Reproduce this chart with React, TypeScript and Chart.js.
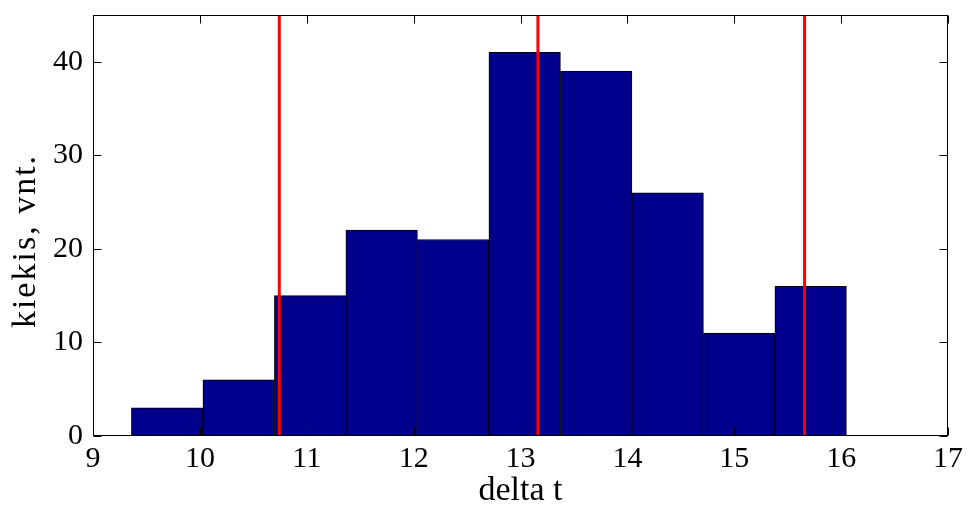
import React, { useEffect, useRef } from 'react';
import { Chart, registerables } from 'chart.js';

Chart.register(...registerables);

// Histogram bins (centres) and counts
const binCenters = [9.694, 10.363, 11.032, 11.701, 12.37, 13.039, 13.708, 14.377, 15.046, 15.715];
const counts = [3, 6, 15, 22, 21, 41, 39, 26, 11, 16];
// Red vertical marker lines
const redLines = [10.743, 13.163, 15.658];
// Axis ticks
const xTicks = [9, 10, 11, 12, 13, 14, 15, 16, 17];
const yTicks = [0, 10, 20, 30, 40];
const xMin = 9;
const xMax = 17;
const yMin = 0;
const yMax = 45;
const xTitle = 'delta t';
const yTitle = 'kiekis, vnt.';

const FONT = '"Liberation Serif", "Times New Roman", serif';

const framePlugin = {
  id: 'matlabFrame',
  afterDatasetsDraw(chart: any) {
    const { ctx, chartArea: a, scales } = chart;
    const x = scales.x;
    const y = scales.y;
    const L = 8;
    ctx.save();
    ctx.strokeStyle = '#000';
    ctx.lineWidth = 1;
    ctx.beginPath();
    const left = Math.round(a.left) + 0.5;
    const right = Math.round(a.right) - 0.5;
    const top = Math.round(a.top) + 0.5;
    const bottom = Math.round(a.bottom) - 0.5;
    xTicks.forEach((v) => {
      const px = Math.round(x.getPixelForValue(v)) + 0.5;
      ctx.moveTo(px, bottom);
      ctx.lineTo(px, bottom - L);
      ctx.moveTo(px, top);
      ctx.lineTo(px, top + L);
    });
    yTicks.forEach((v) => {
      const py = Math.round(y.getPixelForValue(v)) + 0.5;
      ctx.moveTo(left, py);
      ctx.lineTo(left + L, py);
      ctx.moveTo(right, py);
      ctx.lineTo(right - L, py);
    });
    ctx.stroke();
    ctx.strokeRect(left, top, right - left, bottom - top);

    // y-axis title (MATLAB-style wide rotated text)
    ctx.fillStyle = '#000';
    ctx.font = '34px ' + FONT;
    (ctx as any).letterSpacing = '2px';
    ctx.textAlign = 'center';
    ctx.textBaseline = 'alphabetic';
    ctx.translate(35, 241);
    ctx.rotate(-Math.PI / 2);
    ctx.fillText(yTitle, 0, 0);
    ctx.restore();
  },
};

export default function App() {
  const ref = useRef<HTMLCanvasElement | null>(null);

  useEffect(() => {
    if (!ref.current) return;
    const barData = binCenters.map((c, i) => ({ x: c, y: counts[i] }));
    const lineSets = redLines.map((v) => ({
      type: 'line' as const,
      data: [
        { x: v, y: yMin },
        { x: v, y: yMax },
      ],
      borderColor: '#ff0000',
      borderWidth: 3,
      pointRadius: 0,
      fill: false,
      order: 0,
    }));
    const chart = new Chart(ref.current, {
      type: 'bar',
      data: {
        datasets: [
          {
            type: 'bar',
            data: barData,
            backgroundColor: '#00008c',
            borderColor: '#000000',
            borderWidth: 1,
            borderSkipped: false,
            barPercentage: 1,
            categoryPercentage: 1,
            order: 1,
          } as any,
          ...lineSets,
        ],
      },
      options: {
        animation: false,
        responsive: true,
        maintainAspectRatio: false,
        layout: { padding: { top: 15, right: 20, left: 0, bottom: 0 } },
        plugins: {
          legend: { display: false },
          tooltip: { enabled: false },
        },
        scales: {
          x: {
            type: 'linear',
            min: xMin,
            max: xMax,
            offset: false,
            grid: { display: false, drawTicks: false },
            border: { display: false },
            afterBuildTicks: (s: any) => {
              s.ticks = xTicks.map((v) => ({ value: v }));
            },
            afterFit: (s: any) => {
              s.height = 72;
              s.paddingLeft = 0;
              s.paddingRight = 0;
            },
            ticks: {
              color: '#000',
              padding: 5,
              maxRotation: 0,
              font: { family: FONT, size: 30 },
            },
            title: {
              display: true,
              text: xTitle,
              color: '#000',
              padding: { top: 0, bottom: 0 },
              font: { family: FONT, size: 34, lineHeight: 1 },
            },
          },
          y: {
            type: 'linear',
            min: yMin,
            max: yMax,
            grid: { display: false, drawTicks: false },
            border: { display: false },
            afterBuildTicks: (s: any) => {
              s.ticks = yTicks.map((v) => ({ value: v }));
            },
            afterFit: (s: any) => {
              s.width = 93;
              s.paddingTop = 0;
              s.paddingBottom = 0;
            },
            ticks: {
              color: '#000',
              padding: 10,
              font: { family: FONT, size: 30 },
            },
            title: { display: false, text: yTitle },
          },
        },
      },
      plugins: [framePlugin],
    });
    return () => chart.destroy();
  }, []);

  return (
    <div style={{ position: 'absolute', left: 0, top: 0, width: 968, height: 508, background: '#fff' }}>
      <canvas ref={ref} />
    </div>
  );
}
